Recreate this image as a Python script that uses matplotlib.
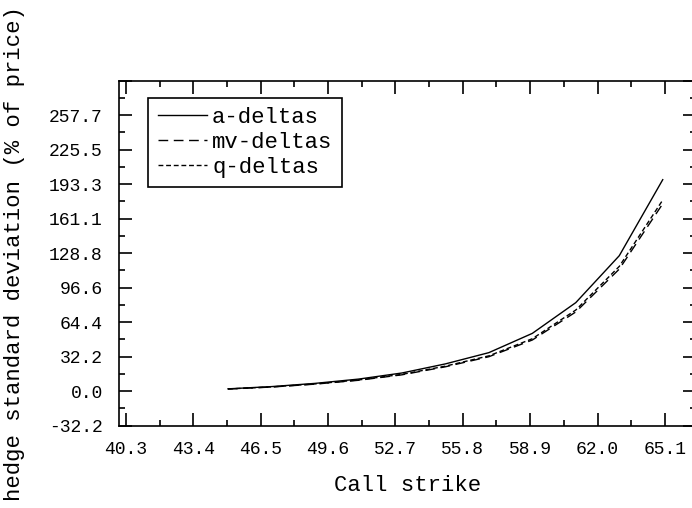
import numpy as np
import matplotlib
matplotlib.use('Agg')
import matplotlib.pyplot as plt
from matplotlib.ticker import FixedLocator, FixedFormatter

# call strikes and hedge standard deviations (% of price)
strikes = [45, 47, 49, 51, 53, 55, 57, 59, 61, 63, 65]
a_deltas = [2.2, 4.3, 7.3, 11.3, 17.0, 25.5, 36.0, 54.0, 82.7, 126.5, 197.5]
mv_deltas = [2.0, 3.9, 6.6, 10.2, 15.3, 22.8, 32.2, 47.8, 74.0, 114.0, 175.0]
q_deltas = [2.1, 4.0, 6.8, 10.5, 15.7, 23.4, 33.0, 49.0, 75.8, 116.5, 178.5]

x_ticks = [40.3, 43.4, 46.5, 49.6, 52.7, 55.8, 58.9, 62.0, 65.1]
y_ticks = [-32.2, 0.0, 32.2, 64.4, 96.6, 128.8, 161.1, 193.3, 225.5, 257.7, 289.9]
y_tick_labels = ['-32.2', '0.0', '32.2', '64.4', '96.6', '128.8', '161.1',
                 '193.3', '225.5', '257.7', '']

FONT = 'Liberation Mono'
plt.rcParams['font.family'] = FONT

fig = plt.figure(figsize=(6.92, 5.08), dpi=100)
ax = fig.add_axes([119.3 / 692, 1 - 425.7 / 508, (696 - 119.3) / 692, 345 / 508])

ax.plot(strikes, a_deltas, '-', color='black', linewidth=1.0, label='a-deltas')
ax.plot(strikes, mv_deltas, color='black', linewidth=1.0, linestyle=(0, (7, 4)),
        label='mv-deltas')
ax.plot(strikes, q_deltas, color='black', linewidth=1.0, linestyle=(0, (3.5, 2)),
        label='q-deltas')

ax.set_xlim(40.0, 66.53)
ax.set_ylim(-32.2, 289.9)

ax.xaxis.set_major_locator(FixedLocator(x_ticks))
ax.xaxis.set_major_formatter(FixedFormatter([f'{v:.1f}' for v in x_ticks]))
ax.xaxis.set_minor_locator(FixedLocator([v + 1.55 for v in [40.3 - 3.1] + x_ticks]))
ax.yaxis.set_major_locator(FixedLocator(y_ticks))
ax.yaxis.set_major_formatter(FixedFormatter(y_tick_labels))
ax.yaxis.set_minor_locator(FixedLocator([v + 16.1 for v in y_ticks]))

ax.tick_params(which='both', direction='in', top=True, right=True,
               width=1.2, labelsize=13)
ax.tick_params(which='major', length=9.5)
ax.tick_params(which='minor', length=4.5)
ax.tick_params(axis='x', which='major', pad=11)
ax.tick_params(axis='y', which='major', pad=12)
for sp in ax.spines.values():
    sp.set_linewidth(1.2)

ax.set_xlabel('Call strike', fontsize=16)
ax.set_ylabel('hedge standard deviation (% of price)', fontsize=16)
ax.xaxis.set_label_coords(0.5, -0.143)
ax.yaxis.set_label_coords(-0.163, 0.5)

leg = ax.legend(loc='upper left', bbox_to_anchor=(0.0503, 0.9507),
                borderaxespad=0, fontsize=16, handlelength=2.2,
                handletextpad=0.25, borderpad=0.42, labelspacing=0.18,
                fancybox=False, framealpha=1, edgecolor='black')
leg.get_frame().set_linewidth(1.2)

fig.savefig('out.png', dpi=100)
